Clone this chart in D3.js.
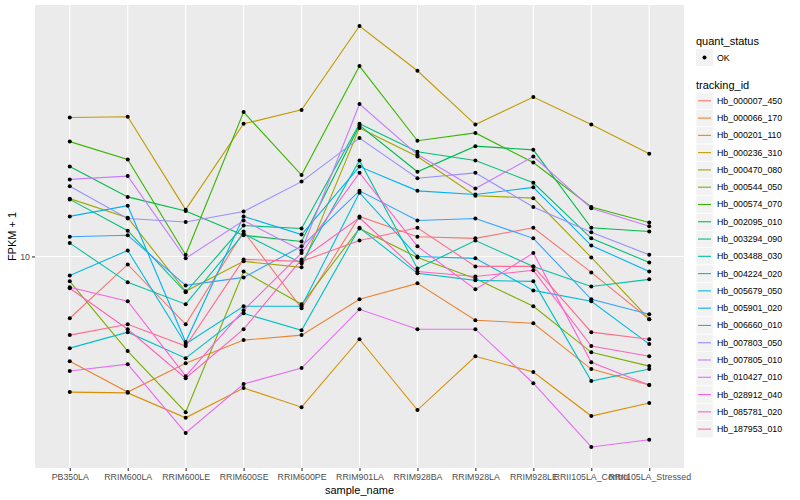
<!DOCTYPE html>
<html>
<head>
<meta charset="utf-8">
<script src="https://cdn.jsdelivr.net/npm/d3@7"></script>
<style>
  body { margin: 0; background: #fff; }
  svg text { font-family: "Liberation Sans", Arial, Helvetica, sans-serif; }
</style>
</head>
<body>
<div id="chart"></div>
<script>
// samples on the x axis
const samples = ["PB350LA", "RRIM600LA", "RRIM600LE", "RRIM600SE", "RRIM600PE", "RRIM901LA",
    "RRIM928BA", "RRIM928LA", "RRIM928LE", "RRII105LA_Control", "RRII105LA_Stressed"];

const trackingIds = ["Hb_000007_450", "Hb_000066_170", "Hb_000201_110", "Hb_000236_310", "Hb_000470_080",
    "Hb_000544_050", "Hb_000574_070", "Hb_002095_010", "Hb_003294_090", "Hb_003488_030",
    "Hb_004224_020", "Hb_005679_050", "Hb_005901_020", "Hb_006660_010", "Hb_007803_050",
    "Hb_007805_010", "Hb_010427_010", "Hb_028912_040", "Hb_085781_020", "Hb_187953_010"];

const quantStatus = ["OK"];
const yTicks = [10];

// FPKM + 1, one array per gene, in sample order
const hb_000007_450 = [7.00, 9.55, 6.76, 11.55, 7.41, 12.6, 11.2, 11.1, 11.8, 9.12, 6.96];
const hb_000066_170 = [5.46, 4.57, 5.40, 6.17, 6.35, 7.81, 8.56, 6.92, 6.80, 5.22, 4.76];
const hb_000201_110 = [4.57, 4.55, 3.94, 4.68, 4.19, 6.20, 4.12, 5.62, 5.13, 3.98, 4.29];
const hb_000236_310 = [22.3, 22.4, 13.1, 21.5, 23.3, 37.8, 29.2, 21.4, 25.1, 21.4, 18.1];
const hb_000470_080 = [13.96, 12.5, 8.18, 9.72, 9.39, 21.0, 17.8, 14.2, 14.0, 9.94, 6.96];
const hb_000544_050 = [8.66, 5.79, 4.07, 9.17, 7.59, 11.75, 9.94, 8.81, 7.50, 5.75, 5.31];
const hb_000574_070 = [19.4, 17.5, 10.1, 23.0, 16.0, 30.0, 19.5, 20.4, 17.2, 13.3, 12.16];
const hb_002095_010 = [16.8, 14.1, 13.0, 11.3, 10.9, 21.3, 16.3, 18.9, 18.5, 11.8, 11.55];
const hb_003294_090 = [13.9, 11.6, 8.13, 11.95, 11.75, 21.5, 18.3, 17.4, 15.3, 11.1, 9.66];
const hb_003488_030 = [10.8, 8.61, 7.59, 11.4, 9.61, 17.4, 9.33, 10.96, 9.44, 8.41, 8.76];
const hb_004224_020 = [5.89, 6.46, 5.56, 7.20, 6.53, 11.8, 9.07, 8.71, 8.66, 4.87, 5.22];
const hb_005679_050 = [8.96, 10.35, 6.03, 7.50, 7.50, 14.45, 10.0, 9.89, 8.22, 7.72, 6.03];
const hb_005901_020 = [12.6, 13.4, 6.10, 12.6, 11.35, 16.8, 14.6, 14.3, 14.9, 10.65, 9.17];
const hb_006660_010 = [11.2, 11.3, 8.46, 8.86, 10.6, 14.6, 12.3, 12.45, 11.1, 7.81, 7.16];
const hb_007803_050 = [15.0, 12.45, 12.2, 12.96, 15.4, 19.8, 15.7, 16.2, 13.3, 11.5, 10.1];
const hb_007805_010 = [15.6, 15.9, 9.89, 12.3, 10.35, 24.1, 18.0, 14.8, 17.8, 13.2, 11.9];
const hb_010427_010 = [5.16, 5.37, 3.61, 4.79, 5.25, 7.37, 6.57, 6.57, 4.81, 3.33, 3.47];
const hb_028912_040 = [8.37, 7.72, 5.01, 7.33, 10.2, 16.2, 10.6, 8.27, 10.2, 5.43, 4.76];
const hb_085781_020 = [8.32, 6.57, 4.95, 6.57, 9.83, 12.5, 9.17, 8.91, 9.23, 5.96, 5.62];
const hb_187953_010 = [6.35, 6.76, 5.96, 9.83, 9.72, 10.96, 11.8, 9.44, 9.44, 6.46, 6.20];

const seriesValues = [hb_000007_450, hb_000066_170, hb_000201_110, hb_000236_310, hb_000470_080,
    hb_000544_050, hb_000574_070, hb_002095_010, hb_003294_090, hb_003488_030,
    hb_004224_020, hb_005679_050, hb_005901_020, hb_006660_010, hb_007803_050,
    hb_007805_010, hb_010427_010, hb_028912_040, hb_085781_020, hb_187953_010];

// ggplot default hue palette for 20 levels
const palette = ["#F8766D", "#EA8331", "#D89000", "#C09B00", "#A3A500", "#7CAE00", "#39B600",
    "#00BB4E", "#00BF7D", "#00C1A3", "#00BFC4", "#00BAE0", "#00B0F6", "#35A2FF", "#9590FF",
    "#C77CFF", "#E76BF3", "#FA62DB", "#FF62BC", "#FF6C91"];

const series = trackingIds.map((id, i) => ({
    id: id,
    color: palette[i],
    points: samples.map((s, j) => ({ sample: s, value: seriesValues[i][j] }))
}));

const width = 800,
    height = 500,
    panel = { left: 35, right: 684, top: 5, bottom: 468 };

const svg = d3.select("#chart")
    .append("svg")
    .attr("width", width)
    .attr("height", height);

svg.append("rect")
    .attr("width", width)
    .attr("height", height)
    .attr("fill", "#ffffff");

// scales
const xScale = d3.scalePoint()
    .domain(samples)
    .range([panel.left, panel.right])
    .padding(0.6);

const allValues = seriesValues.flat();
const logMin = Math.log10(d3.min(allValues)),
    logMax = Math.log10(d3.max(allValues)),
    pad = (logMax - logMin) * 0.05;

const yScale = d3.scaleLog()
    .domain([Math.pow(10, logMin - pad), Math.pow(10, logMax + pad)])
    .range([panel.bottom, panel.top]);

// panel background and grid
svg.append("rect")
    .attr("x", panel.left)
    .attr("y", panel.top)
    .attr("width", panel.right - panel.left)
    .attr("height", panel.bottom - panel.top)
    .attr("fill", "#EBEBEB");

svg.append("g")
    .selectAll("line.vgrid")
    .data(samples)
    .join("line")
    .attr("x1", d => xScale(d))
    .attr("x2", d => xScale(d))
    .attr("y1", panel.top)
    .attr("y2", panel.bottom)
    .attr("stroke", "#ffffff")
    .attr("stroke-width", 1.1);

svg.append("g")
    .selectAll("line.hgrid")
    .data(yTicks)
    .join("line")
    .attr("x1", panel.left)
    .attr("x2", panel.right)
    .attr("y1", d => yScale(d))
    .attr("y2", d => yScale(d))
    .attr("stroke", "#ffffff")
    .attr("stroke-width", 1.1);

// axes
const xAxis = d3.axisBottom(xScale).tickSize(3).tickPadding(3);
const yAxis = d3.axisLeft(yScale).tickValues(yTicks).tickFormat(d3.format("d")).tickSize(3).tickPadding(2);

const gx = svg.append("g")
    .attr("transform", "translate(0," + panel.bottom + ")")
    .call(xAxis);

const gy = svg.append("g")
    .attr("transform", "translate(" + panel.left + ",0)")
    .call(yAxis);

[gx, gy].forEach(g => {
    g.select(".domain").remove();
    g.selectAll(".tick line").attr("stroke", "#333333").attr("stroke-width", 1.1);
    g.selectAll(".tick text").attr("fill", "#4D4D4D").style("font-size", "8.8px");
});

svg.append("text")
    .attr("x", (panel.left + panel.right) / 2)
    .attr("y", 494)
    .attr("text-anchor", "middle")
    .style("font-size", "11px")
    .text("sample_name");

svg.append("text")
    .attr("transform", "translate(16," + ((panel.top + panel.bottom) / 2) + ") rotate(-90)")
    .attr("text-anchor", "middle")
    .style("font-size", "11px")
    .text("FPKM + 1");

// lines then points
const line = d3.line()
    .x(d => xScale(d.sample))
    .y(d => yScale(d.value));

svg.append("g")
    .selectAll("path")
    .data(series)
    .join("path")
    .attr("d", d => line(d.points))
    .attr("fill", "none")
    .attr("stroke", d => d.color)
    .attr("stroke-width", 1.1);

svg.append("g")
    .selectAll("circle")
    .data(series.flatMap(d => d.points))
    .join("circle")
    .attr("cx", d => xScale(d.sample))
    .attr("cy", d => yScale(d.value))
    .attr("r", 2)
    .attr("fill", "#000000");

// legend
const legend = svg.append("g").attr("transform", "translate(696,0)");

legend.append("text")
    .attr("x", 0)
    .attr("y", 45)
    .style("font-size", "11px")
    .text("quant_status");

const qKey = legend.selectAll("g.q")
    .data(quantStatus)
    .join("g")
    .attr("transform", "translate(0,49)");

qKey.append("rect")
    .attr("width", 17)
    .attr("height", 17)
    .attr("fill", "#F2F2F2");

qKey.append("circle")
    .attr("cx", 8.5)
    .attr("cy", 8.5)
    .attr("r", 2)
    .attr("fill", "#000000");

qKey.append("text")
    .attr("x", 21)
    .attr("y", 11.5)
    .style("font-size", "8.8px")
    .text(d => d);

legend.append("text")
    .attr("x", 0)
    .attr("y", 89)
    .style("font-size", "11px")
    .text("tracking_id");

const keys = legend.selectAll("g.k")
    .data(series)
    .join("g")
    .attr("transform", (d, i) => "translate(0," + (92.3 + i * 17.28) + ")");

keys.append("rect")
    .attr("width", 17)
    .attr("height", 17)
    .attr("fill", "#F2F2F2")
    .attr("stroke", "#ffffff")
    .attr("stroke-width", 0.5);

keys.append("line")
    .attr("x1", 2)
    .attr("x2", 15)
    .attr("y1", 8.5)
    .attr("y2", 8.5)
    .attr("stroke", d => d.color)
    .attr("stroke-width", 1.1);

keys.append("text")
    .attr("x", 21)
    .attr("y", 11.5)
    .style("font-size", "8.8px")
    .text(d => d.id);
</script>
</body>
</html>
